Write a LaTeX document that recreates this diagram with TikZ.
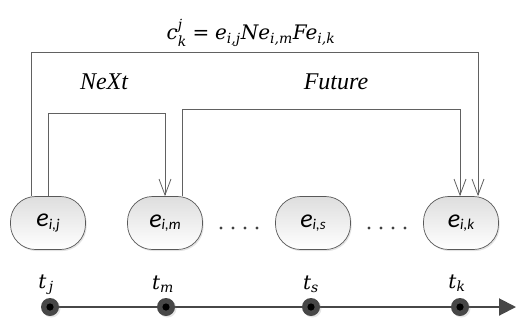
\documentclass[tikz,border=0pt]{standalone}
\usepackage{amsmath}
\usepackage{fontspec}
\setmainfont{Liberation Serif}
\newfontfamily\evfont{Carlito}
\newfontfamily\mfont{DejaVu Serif}
\usetikzlibrary{arrows.meta,shadows,backgrounds}
\newcommand\ev[1]{e\raisebox{-2.5pt}{\fontsize{15}{15}\selectfont #1}}
\newcommand\mv[1]{\text{\mfont\itshape #1}}
\tikzset{
  event/.style={draw=black!65, line width=0.7pt, rounded corners=25pt,
    minimum width=75pt, minimum height=53pt, inner sep=0pt,
    top color=black!13, bottom color=white,
    drop shadow={shadow xshift=1.2pt,shadow yshift=-1.6pt,opacity=0.22},
    font=\evfont\itshape\fontsize{26}{26}\selectfont},
  link/.style={draw=black!62, line width=0.8pt,
    -{Straight Barb[length=16pt,width=12pt,line width=0.8pt]}},
  tick/.style={circle, fill=black!72, minimum size=18pt, inner sep=0pt,
    drop shadow={shadow xshift=1.5pt,shadow yshift=-1.5pt,opacity=0.2},
    path picture={\fill[black] (path picture bounding box.center) circle (3.6pt);}},
  mathtext/.style={font=\fontsize{20}{24}\selectfont},
  tagtext/.style={font=\itshape\fontsize{24}{28}\selectfont},
}
\begin{document}
\begin{tikzpicture}[x=1pt,y=-1pt]
  \useasboundingbox (0,0) rectangle (516,325);
  % events
  \node[event] (ej) at (48,223) {\ev{i,j}};
  \node[event] (em) at (165,223) {\ev{i,m}};
  \node[event] (es) at (313,223) {\ev{i,s}};
  \node[event] (ek) at (461,223) {\ev{i,k}};
  \foreach \x in {221,233,245,257,369,381,393,405}
    \fill[black!75] (\x,228) circle (1.7pt);
  % links
  \draw[link] ([xshift=-17pt]ej.north) -- ++(0,-144) -| ([xshift=17pt]ek.north);
  \draw[link] (ej.north) -- ++(0,-83) -| (em.north);
  \draw[link] ([xshift=17pt]em.north) -- ++(0,-87) -| ([xshift=-1pt]ek.north);
  \node[mathtext] (cf) at (251,33)
    {$\mv{c}_{\mv{k}}^{\mv{j}}\mathrel{\text{\mfont=}}\mv{e}_{\mv{i,j}}\mv{Ne}_{\mv{i,m}}\mv{Fe}_{\mv{i,k}}$};
  \node[tagtext] (nx) at (104,82) {NeXt};
  \node[tagtext] (fu) at (336,82) {Future};
  % time axis
  \coordinate (tend) at (516,307);
  \node[tick] (dj) at (50,307) {};
  \node[tick] (dm) at (166,307) {};
  \node[tick] (ds) at (311,307) {};
  \node[tick] (dk) at (460,307) {};
  \begin{scope}[on background layer]
    \draw[black!72, line width=2pt, -{Triangle[length=17pt,width=17pt]}] (dj.center) -- (tend);
  \end{scope}
  \node[mathtext] (tj) at (46,285) {$\mv{t}_{\,\mv{j}}$};
  \node[mathtext] (tm) at (163,284) {$\mv{t}_{\mv{m}}$};
  \node[mathtext] (ts) at (311,284) {$\mv{t}_{\mv{s}}$};
  \node[mathtext] (tk) at (457,283) {$\mv{t}_{\mv{k}}$};
\end{tikzpicture}
\end{document}
